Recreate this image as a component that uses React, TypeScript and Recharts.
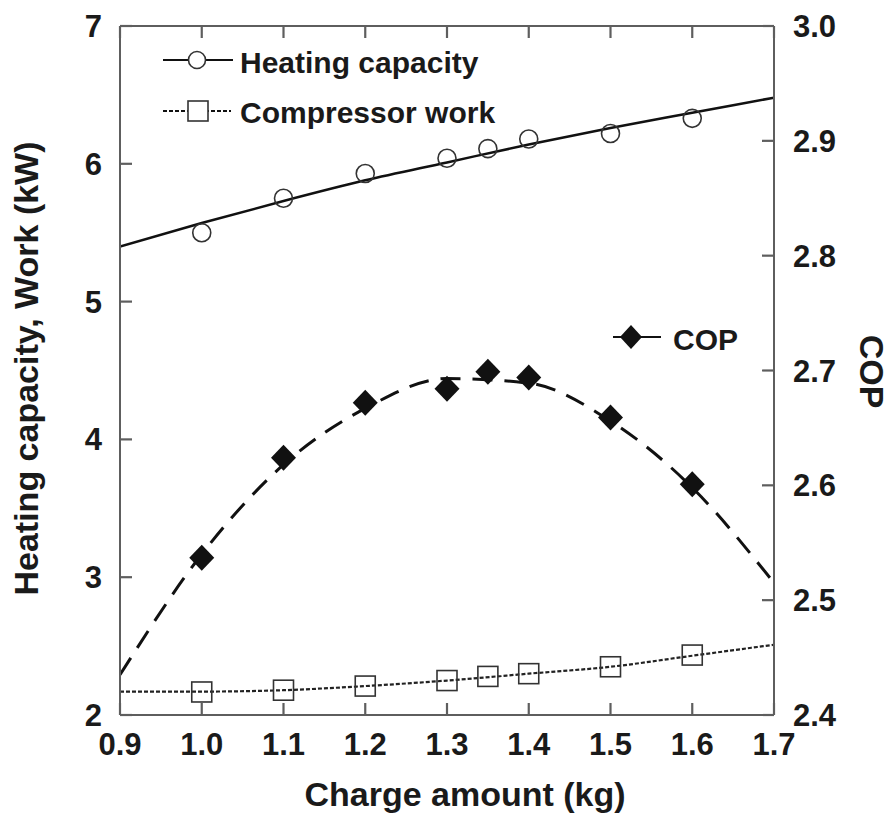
import React from 'react';
import { ComposedChart, Line, Scatter, XAxis, YAxis, Legend } from 'recharts';

// ---- data ----
const chargeFit = [0.9, 1.0, 1.1, 1.2, 1.3, 1.4, 1.5, 1.6, 1.7];
const heatingFit = [5.4, 5.57, 5.73, 5.88, 6.01, 6.14, 6.26, 6.37, 6.48];
const workFit = [2.17, 2.17, 2.18, 2.21, 2.25, 2.3, 2.35, 2.43, 2.51];
const copFit = [2.435, 2.54, 2.618, 2.667, 2.693, 2.689, 2.656, 2.598, 2.515];

const chargeMeasured = [1.0, 1.1, 1.2, 1.3, 1.35, 1.4, 1.5, 1.6];
const heatingMeasured = [5.5, 5.75, 5.93, 6.04, 6.11, 6.18, 6.22, 6.33];
const workMeasured = [2.167, 2.18, 2.21, 2.25, 2.28, 2.3, 2.35, 2.435];
const copMeasured = [2.537, 2.624, 2.672, 2.684, 2.699, 2.694, 2.659, 2.601];

const xTicks = [0.9, 1.0, 1.1, 1.2, 1.3, 1.4, 1.5, 1.6, 1.7];
const leftTicks = [2, 3, 4, 5, 6, 7];
const rightTicks = [2.4, 2.5, 2.6, 2.7, 2.8, 2.9, 3.0];

const xTitle = 'Charge amount (kg)';
const leftTitle = 'Heating capacity, Work (kW)';
const rightTitle = 'COP';

const toPoints = (xs: number[], ys: number[]) => xs.map((x, i) => ({ x, y: ys[i] }));

const heatingFitData = toPoints(chargeFit, heatingFit);
const workFitData = toPoints(chargeFit, workFit);
const copFitData = toPoints(chargeFit, copFit);
const heatingData = toPoints(chargeMeasured, heatingMeasured);
const workData = toPoints(chargeMeasured, workMeasured);
const copData = toPoints(chargeMeasured, copMeasured);

// ---- styles ----
const FONT = '"Liberation Sans", Arial, Helvetica, sans-serif';
const TEXT = '#1a1a1a';
const AXIS = '#5e5e5e';
const TICK_STROKE = '#5e5e5e';
const TICK_LEN = 12;
const FS_TICK = 31;

const textProps = { fontSize: FS_TICK, fontWeight: 700, fill: TEXT, fontFamily: FONT };

const LeftTick = (p: any) => {
  const ax = p.x + 18;
  return (
    <g>
      <path d={`M${ax},${p.y}h${TICK_LEN}`} stroke={TICK_STROKE} strokeWidth={2.2} fill="none" />
      <text x={p.x} y={p.y} dy="0.355em" textAnchor="end" {...textProps}>
        {p.payload.value}
      </text>
    </g>
  );
};
const RightTick = (p: any) => {
  const ax = p.x - 19;
  return (
    <g>
      <path d={`M${ax},${p.y}h${-TICK_LEN}`} stroke={TICK_STROKE} strokeWidth={2.2} fill="none" />
      <text x={p.x} y={p.y} dy="0.355em" textAnchor="start" {...textProps}>
        {Number(p.payload.value).toFixed(1)}
      </text>
    </g>
  );
};
const BottomTick = (p: any) => {
  const ay = p.y - 18;
  return (
    <g>
      <path d={`M${p.x},${ay}v${-TICK_LEN}`} stroke={TICK_STROKE} strokeWidth={2.2} fill="none" />
      <text x={p.x} y={p.y} dy="0.71em" textAnchor="middle" {...textProps}>
        {Number(p.payload.value).toFixed(1)}
      </text>
    </g>
  );
};
const TopTick = (p: any) => (
  <path d={`M${p.x},${p.y}v${TICK_LEN}`} stroke={TICK_STROKE} strokeWidth={2.2} fill="none" />
);

const CircleShape = (p: any) => (
  <circle cx={p.cx} cy={p.cy} r={9} fill="none" stroke="#333" strokeWidth={1.6} />
);
const SquareShape = (p: any) => (
  <rect x={p.cx - 10} y={p.cy - 10} width={20} height={20} fill="none" stroke="#333" strokeWidth={1.6} />
);
const DiamondShape = (p: any) => (
  <polygon
    points={`${p.cx},${p.cy - 13} ${p.cx + 12.5},${p.cy} ${p.cx},${p.cy + 13} ${p.cx - 12.5},${p.cy}`}
    fill="#111"
  />
);

const legendLayout: Record<string, any> = {
  'Heating capacity': { x1: 163, x2: 233, y: 60, mx: 197, marker: 'circle', dash: undefined, tx: 240, ty: 73 },
  'Compressor work': { x1: 163, x2: 231, y: 111, mx: 198, marker: 'square', dash: '4 2', tx: 240, ty: 123 },
  COP: { x1: 613, x2: 661, y: 337, mx: 631, marker: 'diamond', dash: undefined, tx: 673, ty: 350 },
};

const LegendContent = (props: any) => {
  const payload = (props.payload || []).filter((e: any) => legendLayout[e.value]);
  return (
    <svg width={893} height={813} style={{ position: 'absolute', left: 0, top: 0, overflow: 'visible' }}>
      {payload.map((e: any) => {
        const l = legendLayout[e.value];
        return (
          <g key={e.value}>
            <line x1={l.x1} x2={l.x2} y1={l.y} y2={l.y} stroke="#111" strokeWidth={2.2} strokeDasharray={l.dash} />
            {l.marker === 'circle' && <circle cx={l.mx} cy={l.y} r={8.5} fill="#fff" stroke="#333" strokeWidth={1.6} />}
            {l.marker === 'square' && (
              <rect x={l.mx - 10} y={l.y - 10} width={20} height={20} fill="#fff" stroke="#333" strokeWidth={1.6} />
            )}
            {l.marker === 'diamond' && (
              <polygon
                points={`${l.mx},${l.y - 12} ${l.mx + 11},${l.y} ${l.mx},${l.y + 12} ${l.mx - 11},${l.y}`}
                fill="#111"
              />
            )}
            <text x={l.tx} y={l.ty} fontSize={30} fontWeight={700} fill={TEXT} fontFamily={FONT}>
              {e.value}
            </text>
          </g>
        );
      })}
    </svg>
  );
};

const XTitle = (props: any) => {
  const vb = props.viewBox || {};
  return (
    <text
      x={vb.x + vb.width / 2 + 18}
      y={vb.y + vb.height + 31}
      textAnchor="middle"
      fontSize={34}
      fontWeight={700}
      fill={TEXT}
      fontFamily={FONT}
    >
      {xTitle}
    </text>
  );
};

const LeftTitle = (props: any) => {
  const vb = props.viewBox || {};
  const cx = vb.x - 34;
  const cy = vb.y + vb.height / 2 - 2;
  return (
    <text
      x={cx}
      y={cy}
      dy="0.355em"
      transform={`rotate(-90 ${cx} ${cy})`}
      textAnchor="middle"
      fontSize={34}
      fontWeight={700}
      fill={TEXT}
      fontFamily={FONT}
    >
      {leftTitle}
    </text>
  );
};

const RightTitle = (props: any) => {
  const vb = props.viewBox || {};
  const cx = vb.x + vb.width + 38;
  const cy = vb.y + vb.height / 2 + 1;
  return (
    <text
      x={cx}
      y={cy}
      dy="0.355em"
      transform={`rotate(90 ${cx} ${cy})`}
      textAnchor="middle"
      fontSize={34}
      fontWeight={700}
      fill={TEXT}
      fontFamily={FONT}
    >
      {rightTitle}
    </text>
  );
};

export default function App() {
  return (
    <div style={{ position: 'absolute', left: 0, top: 0, background: '#fff' }}>
      <ComposedChart width={893} height={813} margin={{ top: 16, right: 59, bottom: 38, left: 60 }}>
        <XAxis
          xAxisId="bottom"
          dataKey="x"
          type="number"
          domain={[0.9, 1.7]}
          ticks={xTicks}
          allowDataOverflow
          height={60}
          tickSize={0}
          tickMargin={18}
          tick={<BottomTick />}
          tickLine={false}
          axisLine={{ stroke: AXIS, strokeWidth: 2 }}
          interval={0}
          label={<XTitle />}
        />
        <XAxis
          xAxisId="top"
          orientation="top"
          dataKey="x"
          type="number"
          domain={[0.9, 1.7]}
          ticks={xTicks}
          allowDataOverflow
          height={10}
          tickSize={0}
          tickMargin={0}
          tick={<TopTick />}
          tickLine={false}
          axisLine={{ stroke: AXIS, strokeWidth: 2 }}
          interval={0}
        />
        <YAxis
          yAxisId="left"
          dataKey="y"
          type="number"
          domain={[2, 7]}
          ticks={leftTicks}
          allowDataOverflow
          width={60}
          tickSize={0}
          tickMargin={18}
          tick={<LeftTick />}
          tickLine={false}
          axisLine={{ stroke: AXIS, strokeWidth: 2 }}
          interval={0}
          label={<LeftTitle />}
        />
        <YAxis
          yAxisId="right"
          orientation="right"
          dataKey="y"
          type="number"
          domain={[2.4, 3.0]}
          ticks={rightTicks}
          allowDataOverflow
          width={60}
          tickSize={0}
          tickMargin={19}
          tick={<RightTick />}
          tickLine={false}
          axisLine={{ stroke: AXIS, strokeWidth: 2 }}
          interval={0}
          label={<RightTitle />}
        />
        <Legend
          layout="horizontal"
          verticalAlign="middle"
          align="center"
          content={<LegendContent />}
          wrapperStyle={{ left: 0, top: 0, width: 893, height: 813, pointerEvents: 'none' }}
        />
        <Line
          name="Heating capacity"
          data={heatingFitData}
          dataKey="y"
          xAxisId="bottom"
          yAxisId="left"
          type="monotone"
          stroke="#111"
          strokeWidth={2.5}
          dot={false}
          activeDot={false}
          isAnimationActive={false}
        />
        <Line
          name="Compressor work"
          data={workFitData}
          dataKey="y"
          xAxisId="bottom"
          yAxisId="left"
          type="monotone"
          stroke="#222"
          strokeWidth={2.2}
          strokeDasharray="4 2"
          dot={false}
          activeDot={false}
          isAnimationActive={false}
        />
        <Line
          name="COP"
          data={copFitData}
          dataKey="y"
          xAxisId="bottom"
          yAxisId="right"
          type="monotone"
          stroke="#111"
          strokeWidth={3}
          strokeDasharray="20 12"
          dot={false}
          activeDot={false}
          isAnimationActive={false}
        />
        <Scatter
          name="Heating capacity (measured)"
          data={heatingData}
          xAxisId="bottom"
          yAxisId="left"
          shape={CircleShape}
          legendType="none"
          isAnimationActive={false}
        />
        <Scatter
          name="Compressor work (measured)"
          data={workData}
          xAxisId="bottom"
          yAxisId="left"
          shape={SquareShape}
          legendType="none"
          isAnimationActive={false}
        />
        <Scatter
          name="COP (measured)"
          data={copData}
          xAxisId="bottom"
          yAxisId="right"
          shape={DiamondShape}
          legendType="none"
          isAnimationActive={false}
        />
      </ComposedChart>
    </div>
  );
}
